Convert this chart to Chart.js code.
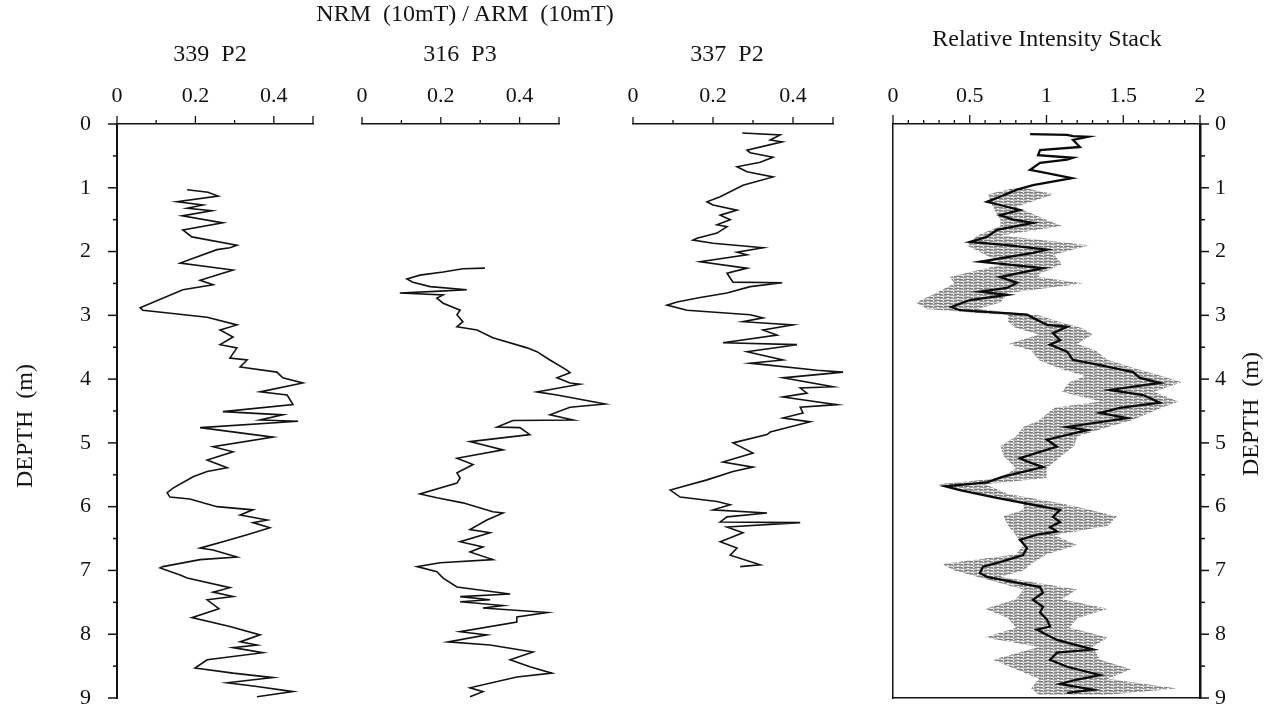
<!DOCTYPE html>
<html>
<head>
<meta charset="utf-8">
<title>NRM/ARM depth profiles</title>
<script src="https://cdn.jsdelivr.net/npm/chart.js@4.4.0/dist/chart.umd.min.js"></script>
<style>
  html, body { margin: 0; padding: 0; background: #fff; }
  #page { position: relative; width: 1271px; height: 708px; overflow: hidden;
          font-family: "Liberation Serif", "DejaVu Serif", serif; color: #151515; }
  #page canvas { position: absolute; left: 0; top: 0; }
  .lbl { position: absolute; white-space: pre; font-size: 24px; line-height: 1;
         transform: translate(-50%, -50%); }
  .rot { transform: translate(-50%, -50%) rotate(-90deg); }
</style>
</head>
<body>
<div id="page">
  <canvas id="c339" width="1271" height="708"></canvas>
  <canvas id="c316" width="1271" height="708"></canvas>
  <canvas id="c337" width="1271" height="708"></canvas>
  <canvas id="cstack" width="1271" height="708"></canvas>

  <div class="lbl" style="left:465px; top:13px;">NRM  (10mT) / ARM  (10mT)</div>
  <div class="lbl" style="left:210px; top:53px;">339  P2</div>
  <div class="lbl" style="left:460px; top:53px;">316  P3</div>
  <div class="lbl" style="left:727px; top:53px;">337  P2</div>
  <div class="lbl" style="left:1047px; top:38px;">Relative Intensity Stack</div>
  <div class="lbl rot" style="left:24px; top:426px;">DEPTH  (m)</div>
  <div class="lbl rot" style="left:1250px; top:414px;">DEPTH  (m)</div>
</div>

<script>
// tick labels
const depthTicks = [0, 1, 2, 3, 4, 5, 6, 7, 8, 9];
const ratioTicks = [0, 0.2, 0.4];
const stackTicks = [0, 0.5, 1, 1.5, 2];

// core 339 P2
const depth339 = [
  1.03, 1.07, 1.13, 1.22, 1.27, 1.32, 1.36, 1.44, 1.55, 1.66,
  1.77, 1.90, 1.94, 1.97, 2.18, 2.29, 2.45, 2.52, 2.60, 2.88,
  2.92, 3.03, 3.15, 3.23, 3.34, 3.46, 3.51, 3.67, 3.70, 3.81,
  3.89, 3.98, 4.06, 4.20, 4.25, 4.40, 4.51, 4.56, 4.64, 4.66,
  4.76, 4.91, 5.06, 5.14, 5.27, 5.39, 5.45, 5.53, 5.71, 5.78,
  5.85, 5.88, 6.00, 6.05, 6.13, 6.21, 6.25, 6.33, 6.44, 6.52,
  6.65, 6.68, 6.79, 6.83, 6.94, 6.96, 7.07, 7.12, 7.27, 7.34,
  7.41, 7.46, 7.60, 7.74, 7.88, 8.01, 8.12, 8.17, 8.21, 8.29,
  8.40, 8.53, 8.61, 8.68, 8.76, 8.82, 8.90, 8.98
];
const nrm339 = [
  0.179, 0.232, 0.258, 0.153, 0.219, 0.179, 0.242, 0.166, 0.270, 0.168,
  0.191, 0.306, 0.288, 0.255, 0.161, 0.296, 0.212, 0.245, 0.168, 0.059,
  0.066, 0.230, 0.306, 0.263, 0.296, 0.263, 0.306, 0.288, 0.332, 0.314,
  0.408, 0.423, 0.474, 0.365, 0.434, 0.449, 0.270, 0.423, 0.365, 0.462,
  0.212, 0.398, 0.245, 0.296, 0.230, 0.281, 0.230, 0.194, 0.143, 0.128,
  0.135, 0.186, 0.255, 0.347, 0.314, 0.383, 0.347, 0.390, 0.332, 0.288,
  0.212, 0.245, 0.306, 0.212, 0.117, 0.110, 0.161, 0.179, 0.288, 0.245,
  0.296, 0.230, 0.260, 0.191, 0.288, 0.365, 0.314, 0.357, 0.296, 0.372,
  0.230, 0.199, 0.296, 0.398, 0.281, 0.357, 0.449, 0.357
];

// core 316 P3
const depth316 = [
  2.26, 2.27, 2.32, 2.37, 2.43, 2.48, 2.55, 2.60, 2.62, 2.65,
  2.68, 2.73, 2.81, 2.92, 2.99, 3.10, 3.18, 3.23, 3.35, 3.51,
  3.57, 3.70, 3.86, 3.90, 3.98, 4.06, 4.08, 4.20, 4.25, 4.39,
  4.44, 4.56, 4.64, 4.65, 4.75, 4.76, 4.87, 4.98, 5.11, 5.24,
  5.34, 5.47, 5.55, 5.63, 5.80, 5.86, 5.94, 6.08, 6.10, 6.21,
  6.36, 6.41, 6.55, 6.63, 6.71, 6.83, 6.88, 6.94, 7.02, 7.12,
  7.26, 7.37, 7.41, 7.46, 7.49, 7.55, 7.59, 7.66, 7.73, 7.81,
  7.96, 8.01, 8.12, 8.17, 8.28, 8.40, 8.51, 8.61, 8.67, 8.84,
  8.90, 8.98
];
const nrm316 = [
  0.312, 0.256, 0.206, 0.147, 0.114, 0.129, 0.173, 0.266, 0.198, 0.096,
  0.206, 0.190, 0.206, 0.249, 0.241, 0.256, 0.241, 0.292, 0.332, 0.419,
  0.444, 0.477, 0.520, 0.528, 0.495, 0.528, 0.553, 0.444, 0.495, 0.617,
  0.528, 0.477, 0.536, 0.383, 0.343, 0.401, 0.426, 0.274, 0.358, 0.241,
  0.282, 0.241, 0.249, 0.241, 0.147, 0.190, 0.256, 0.332, 0.358, 0.317,
  0.274, 0.325, 0.249, 0.307, 0.274, 0.332, 0.198, 0.140, 0.190, 0.206,
  0.241, 0.376, 0.249, 0.325, 0.249, 0.358, 0.307, 0.470, 0.393, 0.393,
  0.249, 0.317, 0.218, 0.325, 0.434, 0.376, 0.426, 0.482, 0.393, 0.274,
  0.307, 0.274
];

// core 337 P2
const depth337 = [
  0.14, 0.17, 0.25, 0.28, 0.41, 0.45, 0.52, 0.60, 0.67, 0.75,
  0.83, 0.96, 1.14, 1.22, 1.27, 1.35, 1.43, 1.50, 1.58, 1.61,
  1.71, 1.79, 1.82, 1.87, 1.94, 2.01, 2.05, 2.16, 2.24, 2.26,
  2.34, 2.48, 2.49, 2.55, 2.65, 2.72, 2.79, 2.84, 2.92, 2.99,
  3.04, 3.10, 3.15, 3.23, 3.31, 3.43, 3.46, 3.57, 3.70, 3.75,
  3.86, 3.89, 3.98, 4.12, 4.14, 4.22, 4.28, 4.40, 4.44, 4.53,
  4.61, 4.67, 4.83, 4.87, 5.00, 5.16, 5.30, 5.38, 5.45, 5.58,
  5.74, 5.85, 5.92, 5.97, 6.05, 6.10, 6.16, 6.24, 6.25, 6.32,
  6.41, 6.55, 6.65, 6.76, 6.91, 6.94
];
const nrm337 = [
  0.273, 0.368, 0.343, 0.373, 0.285, 0.293, 0.350, 0.318, 0.260, 0.285,
  0.350, 0.275, 0.218, 0.185, 0.200, 0.260, 0.218, 0.243, 0.210, 0.235,
  0.210, 0.160, 0.150, 0.200, 0.325, 0.260, 0.285, 0.168, 0.260, 0.285,
  0.235, 0.250, 0.373, 0.293, 0.235, 0.168, 0.110, 0.085, 0.135, 0.293,
  0.325, 0.275, 0.400, 0.325, 0.360, 0.225, 0.410, 0.285, 0.375, 0.293,
  0.460, 0.525, 0.375, 0.500, 0.418, 0.435, 0.375, 0.510, 0.418, 0.425,
  0.375, 0.443, 0.343, 0.335, 0.250, 0.300, 0.225, 0.300, 0.250, 0.185,
  0.093, 0.118, 0.210, 0.243, 0.200, 0.335, 0.235, 0.218, 0.418, 0.235,
  0.275, 0.218, 0.260, 0.243, 0.318, 0.268
];

// relative intensity stack: mean curve
const depthStack = [
  0.16, 0.17, 0.19, 0.20, 0.25, 0.36, 0.41, 0.49, 0.53, 0.56,
  0.61, 0.72, 0.77, 0.85, 0.96, 1.03, 1.14, 1.22, 1.27, 1.35,
  1.43, 1.50, 1.55, 1.66, 1.77, 1.85, 1.90, 1.97, 2.02, 2.16,
  2.26, 2.40, 2.49, 2.57, 2.63, 2.68, 2.76, 2.87, 2.92, 2.99,
  3.04, 3.15, 3.18, 3.28, 3.39, 3.46, 3.57, 3.70, 3.78, 3.89,
  3.98, 4.06, 4.17, 4.25, 4.37, 4.45, 4.53, 4.61, 4.75, 4.80,
  4.95, 5.06, 5.24, 5.29, 5.38, 5.53, 5.62, 5.68, 5.74, 5.85,
  5.97, 6.05, 6.16, 6.24, 6.32, 6.39, 6.44, 6.52, 6.65, 6.76,
  6.87, 6.94, 7.04, 7.10, 7.26, 7.35, 7.46, 7.57, 7.66, 7.77,
  7.88, 7.93, 8.09, 8.24, 8.29, 8.40, 8.51, 8.64, 8.71, 8.78,
  8.87, 8.92
];
const stackMean = [
  0.893, 1.134, 1.173, 1.270, 1.173, 1.218, 0.958, 0.945, 1.173, 1.134,
  0.958, 0.893, 1.003, 1.166, 0.912, 0.808, 0.697, 0.612, 0.697, 0.827,
  0.697, 0.782, 0.912, 0.678, 0.612, 0.502, 0.743, 1.003, 0.912, 0.567,
  0.977, 0.697, 0.808, 0.743, 0.567, 0.743, 0.502, 0.380, 0.436, 0.873,
  0.912, 1.003, 1.134, 1.042, 1.088, 1.023, 1.134, 1.173, 1.349, 1.564,
  1.609, 1.739, 1.414, 1.629, 1.739, 1.479, 1.349, 1.524, 1.134, 1.264,
  1.003, 1.068, 0.827, 0.873, 0.977, 0.717, 0.612, 0.340, 0.436, 0.651,
  0.912, 1.088, 1.042, 1.088, 1.023, 1.068, 0.938, 0.827, 0.873, 0.847,
  0.697, 0.586, 0.567, 0.612, 0.958, 0.977, 0.912, 0.977, 0.958, 1.003,
  1.023, 0.938, 1.068, 1.303, 1.068, 1.023, 1.134, 1.349, 1.199, 1.088,
  1.303, 1.134
];

// relative intensity stack: spread of the individual cores
const depthBand = [
  1.00, 1.10, 1.30, 1.50, 1.60, 1.75, 1.90, 2.05, 2.20, 2.35,
  2.40, 2.50, 2.65, 2.80, 2.90, 3.00, 3.10, 3.20, 3.30, 3.45,
  3.55, 3.70, 3.85, 3.95, 4.05, 4.20, 4.35, 4.45, 4.55, 4.65,
  4.75, 4.90, 5.05, 5.20, 5.40, 5.55, 5.65, 5.80, 5.95, 6.05,
  6.15, 6.30, 6.45, 6.60, 6.75, 6.90, 7.00, 7.10, 7.30, 7.45,
  7.60, 7.75, 7.90, 8.05, 8.20, 8.40, 8.55, 8.70, 8.85, 8.95
];
const bandLow = [
  0.80, 0.62, 0.65, 0.70, 0.70, 0.55, 0.48, 0.60, 0.72, 0.45,
  0.37, 0.40, 0.28, 0.15, 0.22, 0.75, 0.75, 0.80, 0.95, 0.75,
  0.90, 0.95, 1.10, 1.25, 1.15, 1.10, 1.35, 1.05, 1.00, 0.95,
  0.85, 0.80, 0.70, 0.72, 0.80, 0.70, 0.30, 0.55, 0.85, 0.85,
  0.72, 0.75, 0.80, 0.85, 0.80, 0.32, 0.40, 0.55, 0.85, 0.80,
  0.60, 0.75, 0.80, 0.60, 0.95, 0.65, 0.80, 0.95, 0.90, 0.95
];
const bandHigh = [
  0.85, 1.05, 0.80, 1.00, 1.10, 0.70, 1.28, 1.05, 1.10, 0.95,
  0.95, 1.24, 0.75, 0.70, 0.55, 0.95, 1.08, 1.23, 1.30, 1.20,
  1.32, 1.40, 1.60, 1.75, 1.88, 1.70, 1.86, 1.75, 1.65, 1.55,
  1.40, 1.20, 1.18, 1.10, 1.00, 1.00, 0.60, 0.75, 1.10, 1.28,
  1.46, 1.40, 1.05, 1.20, 1.00, 0.90, 0.85, 0.70, 1.20, 1.10,
  1.40, 1.20, 1.15, 1.40, 1.30, 1.35, 1.55, 1.40, 1.85, 1.40
];

const serif = '"Liberation Serif", "DejaVu Serif", serif';
const ink = '#121212';
const tickFont = { family: serif, size: 22 };

function points(depths, values) {
  return depths.map((d, i) => ({ x: values[i], y: d }));
}

function labelFrom(list) {
  return v => {
    const hit = list.find(t => Math.abs(t - v) < 1e-6);
    return hit === undefined ? '' : String(hit);
  };
}

// short ticks between labels, long ticks on labels and at the axis ends
function tickMarks(spec) {
  return {
    id: 'tickMarks',
    afterDraw(chart) {
      const ctx = chart.ctx;
      const area = chart.chartArea;
      ctx.save();
      ctx.strokeStyle = ink;
      Object.keys(spec).forEach(id => {
        const scale = chart.scales[id];
        const [major, minor, width] = spec[id];
        ctx.lineWidth = width;
        scale.ticks.forEach(t => {
          const long = t.label !== '' || t.value === scale.min || t.value === scale.max;
          const len = long ? major : minor;
          const p = scale.getPixelForValue(t.value);
          ctx.beginPath();
          if (scale.position === 'top') {
            ctx.moveTo(p, area.top); ctx.lineTo(p, area.top - len);
          } else if (scale.position === 'left') {
            ctx.moveTo(area.left, p); ctx.lineTo(area.left - len, p);
          } else {
            ctx.moveTo(area.right, p); ctx.lineTo(area.right + len, p);
          }
          ctx.stroke();
        });
      });
      ctx.restore();
    }
  };
}

function topScale(max, labels) {
  return {
    type: 'linear', position: 'top', min: 0, max: max,
    grid: { display: false, drawTicks: false },
    border: { display: true, color: ink, width: 1.5 },
    ticks: {
      stepSize: 0.1, autoSkip: false, maxRotation: 0, padding: 15,
      callback: labelFrom(labels), font: tickFont, color: ink
    },
    afterFit: s => { s.height = 124; s.paddingLeft = 0; s.paddingRight = 0; }
  };
}

function depthScale(position, shown, pad, width, borderWidth) {
  const scale = {
    type: 'linear', position: position, reverse: true, min: 0, max: 9,
    display: shown,
    grid: { display: false, drawTicks: false },
    border: { display: shown, color: ink, width: borderWidth },
    ticks: {
      stepSize: 0.5, autoSkip: false, padding: pad,
      callback: labelFrom(depthTicks), font: tickFont, color: ink
    }
  };
  if (shown) {
    scale.afterFit = s => { s.width = width; s.paddingTop = 0; s.paddingBottom = 0; };
  }
  return scale;
}

function baseOptions(padding, scales) {
  return {
    responsive: false,
    animation: false,
    events: [],
    indexAxis: 'y',
    layout: { padding: padding },
    plugins: { legend: { display: false }, tooltip: { enabled: false } },
    scales: scales
  };
}

function coreLine(depths, values) {
  return {
    data: points(depths, values),
    borderColor: ink, borderWidth: 1.6,
    pointRadius: 0, tension: 0, fill: false, clip: false
  };
}

// 339 P2, with the shared depth axis on the left
new Chart(document.getElementById('c339'), {
  type: 'line',
  data: { datasets: [coreLine(depth339, nrm339)] },
  options: baseOptions(
    { left: 0, top: 0, right: 1271 - 313, bottom: 10 },
    { x: topScale(0.5, ratioTicks), y: depthScale('left', true, 26, 117, 2) }
  ),
  plugins: [tickMarks({ x: [8, 4, 1.3], y: [9, 4, 1.5] })]
});

// 316 P3
new Chart(document.getElementById('c316'), {
  type: 'line',
  data: { datasets: [coreLine(depth316, nrm316)] },
  options: baseOptions(
    { left: 362, top: 0, right: 1271 - 559, bottom: 10 },
    { x: topScale(0.5, ratioTicks), y: depthScale('left', false) }
  ),
  plugins: [tickMarks({ x: [7, 4, 1.3] })]
});

// 337 P2
new Chart(document.getElementById('c337'), {
  type: 'line',
  data: { datasets: [coreLine(depth337, nrm337)] },
  options: baseOptions(
    { left: 633, top: 0, right: 1271 - 833, bottom: 10 },
    { x: topScale(0.5, ratioTicks), y: depthScale('left', false) }
  ),
  plugins: [tickMarks({ x: [7, 4, 1.3] })]
});

// grey horizontal streaks for the spread of the stack
function streakPattern(ctx) {
  const c = document.createElement('canvas');
  c.width = 10; c.height = 3;
  const g = c.getContext('2d');
  g.fillStyle = '#7f7f7f'; g.fillRect(0, 0, 10, 1);
  g.fillStyle = '#a2a2a2'; g.fillRect(0, 1, 10, 1);
  g.fillStyle = '#c8c8c8'; g.fillRect(0, 2, 10, 1);
  g.fillStyle = '#ffffff'; g.fillRect(3, 0, 1, 1); g.fillRect(7, 1, 2, 1); g.fillRect(1, 2, 2, 1);
  return ctx.createPattern(c, 'repeat');
}

const stackCanvas = document.getElementById('cstack');
const borderOnly = (position, axisSize) => ({
  type: 'linear', position: position, display: true, min: 0,
  max: position === 'bottom' ? 2 : 9, reverse: position === 'left',
  grid: { display: false, drawTicks: false },
  border: { display: true, color: ink, width: 1.5 },
  ticks: { display: false },
  afterFit: s => {
    if (axisSize === 'h') { s.height = 0; s.paddingLeft = 0; s.paddingRight = 0; }
    else { s.width = 0; s.paddingTop = 0; s.paddingBottom = 0; }
  }
});

const stackScales = {
  x: topScale(2, stackTicks),
  y: depthScale('right', true, 15, 71, 2.5),
  xb: borderOnly('bottom', 'h'),
  yl: borderOnly('left', 'w')
};

new Chart(stackCanvas, {
  type: 'line',
  data: {
    datasets: [
      {
        data: points(depthStack, stackMean),
        borderColor: '#0a0a0a', borderWidth: 2.3,
        pointRadius: 0, tension: 0, fill: false, clip: false
      },
      {
        data: points(depthBand, bandHigh),
        borderColor: 'rgba(0,0,0,0)', borderWidth: 0,
        pointRadius: 0, tension: 0, fill: false
      },
      {
        data: points(depthBand, bandLow),
        borderColor: 'rgba(0,0,0,0)', borderWidth: 0,
        backgroundColor: streakPattern(stackCanvas.getContext('2d')),
        pointRadius: 0, tension: 0, fill: 1
      }
    ]
  },
  options: baseOptions({ left: 893, top: 0, right: 0, bottom: 10 }, stackScales),
  plugins: [tickMarks({ x: [9, 4, 1.3], y: [9, 5, 1.5] })]
});
</script>
</body>
</html>
